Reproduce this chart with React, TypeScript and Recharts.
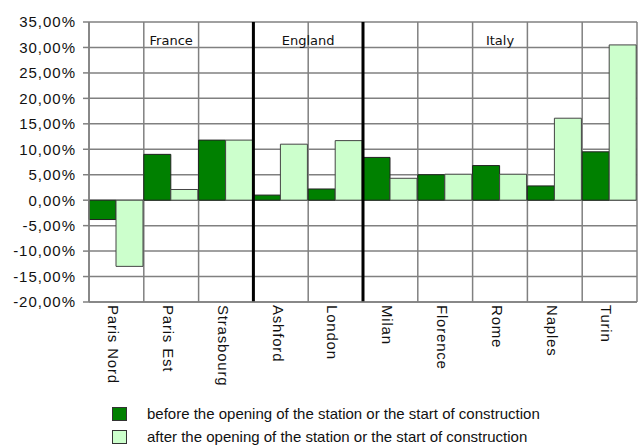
import React from 'react';
import {
  BarChart, Bar, XAxis, YAxis, CartesianGrid, ReferenceLine, ReferenceArea, Legend,
} from 'recharts';

const categories = ['Paris Nord', 'Paris Est', 'Strasbourg', 'Ashford', 'London', 'Milan', 'Florence', 'Rome', 'Naples', 'Turin'];
const beforeValues = [-3.8, 9.0, 11.8, 1.0, 2.2, 8.4, 5.0, 6.8, 2.8, 9.5];
const afterValues = [-13.0, 2.1, 11.8, 11.0, 11.7, 4.3, 5.1, 5.1, 16.1, 30.5];
const yTicks = [-20, -15, -10, -5, 0, 5, 10, 15, 20, 25, 30, 35];
const groups = [
  { name: 'France', from: 'Paris Nord', to: 'Strasbourg' },
  { name: 'England', from: 'Ashford', to: 'London' },
  { name: 'Italy', from: 'Milan', to: 'Turin' },
];
const dividers = ['Ashford', 'Milan'];
const seriesNames = {
  before: 'before the opening of the station or the start of construction',
  after: 'after the opening of the station or the start of construction',
};

const data = categories.map((c, i) => ({ name: c, before: beforeValues[i], after: afterValues[i] }));

const DARK = '#008000';
const LIGHT = '#ccffcc';
const GRID = '#808080';
const FONT = '"Liberation Sans", Arial, sans-serif';

const fmt = (v: number) => `${v.toFixed(2).replace('.', ',')}%`;

const XTick = (props: any) => {
  const { x, y, payload } = props;
  return (
    <text
      transform={`translate(${x - 3},${y + 3}) rotate(90)`}
      dy="0.35em"
      textAnchor="start"
      fontFamily={FONT}
      fontSize={15}
      letterSpacing={0.8}
      fill="#111"
    >
      {payload.value}
    </text>
  );
};

const LegendContent = () => {
  const items = [
    { color: DARK, label: seriesNames.before },
    { color: LIGHT, label: seriesNames.after },
  ];
  return (
    <div style={{ height: 44 }}>
      {items.map((it) => (
        <div key={it.label} style={{ height: 23, display: 'flex', alignItems: 'center' }}>
          <div style={{ width: 13, height: 12, background: it.color, border: '1px solid #333', marginRight: 20 }} />
          <span style={{ fontFamily: FONT, fontSize: 15, lineHeight: '17px', color: '#111', whiteSpace: 'nowrap' }}>{it.label}</span>
        </div>
      ))}
    </div>
  );
};

export default function App() {
  return (
    <div style={{ position: 'absolute', left: 0, top: 0, background: '#fff' }}>
      <BarChart
        width={642}
        height={446}
        data={data}
        margin={{ top: 22, right: 5, bottom: 0, left: 0 }}
        barCategoryGap={0}
        barGap={0}
      >
        <CartesianGrid
          stroke={GRID}
          strokeWidth={1.5}
          verticalCoordinatesGenerator={({ offset }: any) =>
            Array.from({ length: categories.length + 1 }, (_, i) => offset.left + (i * offset.width) / categories.length)
          }
        />
        <XAxis
          dataKey="name"
          height={100}
          tickLine={false}
          tickSize={0}
          tickMargin={0}
          axisLine={{ stroke: GRID, strokeWidth: 1.5 }}
          tick={<XTick />}
          interval={0}
        />
        <YAxis
          width={89}
          domain={[-20, 35]}
          ticks={yTicks}
          tickFormatter={fmt}
          tickSize={6}
          tickMargin={7}
          axisLine={{ stroke: GRID, strokeWidth: 1.5 }}
          tickLine={{ stroke: GRID, strokeWidth: 1.5 }}
          tick={{ fontFamily: FONT, fontSize: 15, fill: '#111', letterSpacing: 1 }}
          allowDataOverflow
        />
        {groups.map((g) => (
          <ReferenceArea
            key={g.name}
            x1={g.from}
            x2={g.to}
            y1={30}
            y2={35}
            fill="none"
            fillOpacity={0}
            stroke="none"
            label={{
              value: g.name,
              position: 'insideBottom',
              offset: 2,
              fill: '#111',
              fontSize: 13,
              fontFamily: '"DejaVu Sans", Verdana, sans-serif',
            }}
          />
        ))}
        <Bar dataKey="before" name={seriesNames.before} fill={DARK} stroke="#222" strokeWidth={1} isAnimationActive={false} />
        <Bar dataKey="after" name={seriesNames.after} fill={LIGHT} stroke="#444" strokeWidth={1} isAnimationActive={false} />
        {dividers.map((d) => (
          <ReferenceLine key={d} x={d} position="start" stroke="#000" strokeWidth={3} />
        ))}
        <Legend
          verticalAlign="bottom"
          align="left"
          content={<LegendContent />}
          wrapperStyle={{ left: 112, bottom: 0, width: 530, height: 44 }}
        />
      </BarChart>
    </div>
  );
}
